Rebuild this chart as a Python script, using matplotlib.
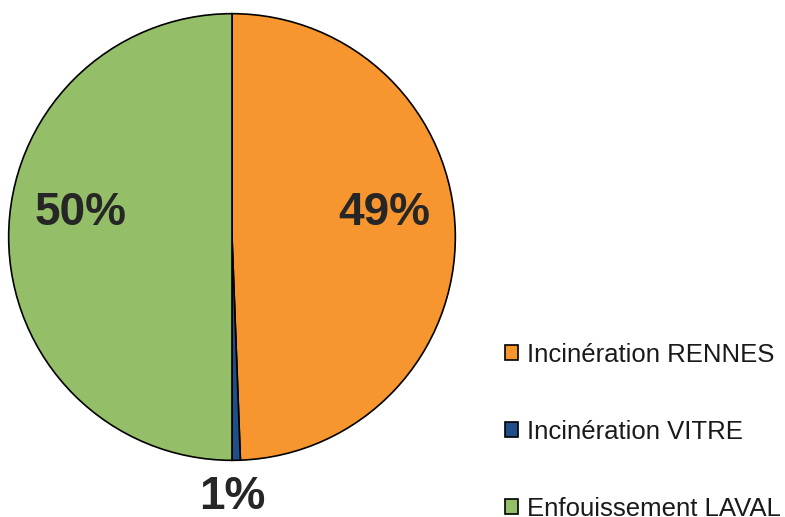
import matplotlib
matplotlib.use('Agg')
import matplotlib.pyplot as plt
from matplotlib.patches import Patch

plt.rcParams['font.family'] = ['Liberation Sans', 'DejaVu Sans']

# data
categories = ['Incinération RENNES', 'Incinération VITRE', 'Enfouissement LAVAL']
shares     = [49.4, 0.6, 50.0]
pct_labels = ['49%', '1%', '50%']
colors     = ['#F7962E', '#1F4E8A', '#94BE68']

fig = plt.figure(figsize=(7.85, 5.17), dpi=100)
ax = fig.add_axes([8/785, 56/517, 448/785, 448/517])

wedges, _ = ax.pie(shares, colors=colors, startangle=90, counterclock=False,
                   wedgeprops=dict(edgecolor='black', linewidth=1.2))
ax.set_xlim(-1.003, 1.003)
ax.set_ylim(-1.003, 1.003)
ax.set_aspect('equal')

# percentage labels (placed like the original, not at wedge centres)
lab_pos = [(0.68, 0.107), (0.0, -1.165), (-0.68, 0.107)]
for (x, y), t in zip(lab_pos, pct_labels):
    ax.text(x, y, t, ha='center', va='center', fontsize=33,
            fontweight='bold', color='#262626', clip_on=False)

handles = [Patch(facecolor=c, edgecolor='black', linewidth=1.2) for c in colors]
leg = fig.legend(handles, categories, loc='lower left',
                 bbox_to_anchor=(495/785, -14/517), frameon=False,
                 fontsize=18.5, handlelength=0.5, handleheight=0.5,
                 handletextpad=0.35, labelspacing=2.06, borderaxespad=0)
for t in leg.get_texts():
    t.set_color('#1a1a1a')

fig.savefig('out.png', dpi=100)
